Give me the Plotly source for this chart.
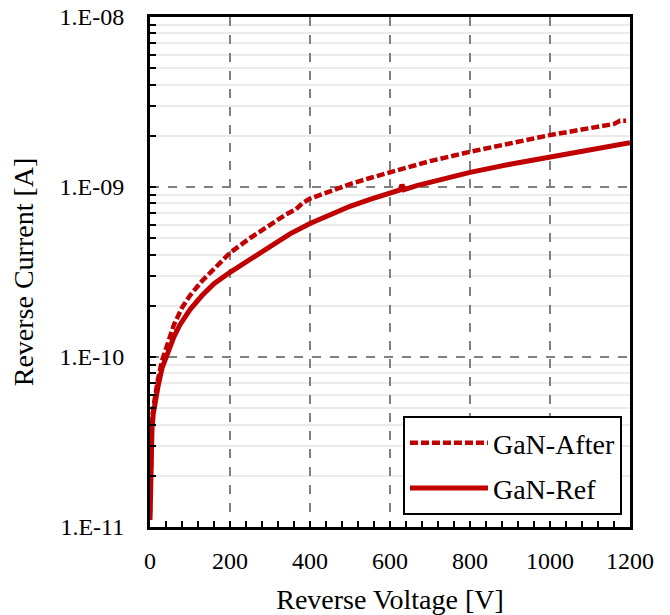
import plotly.graph_objects as go

# ---- data ----
v_after = [0, 1, 2, 3, 5, 8, 12, 20, 30, 40, 50, 60, 80, 100, 130, 160, 200, 250, 300,
           340, 365, 380, 400, 450, 500, 550, 600, 650, 700, 800, 900, 1000, 1100, 1160, 1175, 1190]
i_after = [1.2e-11, 1.7e-11, 2.4e-11, 3.2e-11, 4.2e-11, 5.0e-11, 5.8e-11, 7.4e-11, 9.5e-11,
           1.12e-10, 1.32e-10, 1.55e-10, 1.95e-10, 2.3e-10, 2.8e-10, 3.3e-10, 4.1e-10, 5.0e-10,
           6.0e-10, 6.9e-10, 7.4e-10, 8.0e-10, 8.55e-10, 9.5e-10, 1.04e-9, 1.13e-9, 1.22e-9,
           1.32e-9, 1.42e-9, 1.61e-9, 1.80e-9, 2.02e-9, 2.22e-9, 2.35e-9, 2.45e-9, 2.45e-9]

v_ref = [0, 1, 2, 3, 5, 8, 12, 20, 30, 40, 50, 60, 75, 90, 100, 130, 160, 200, 250, 300,
         350, 400, 450, 500, 550, 600, 625, 630, 635, 667, 700, 800, 900, 1000, 1100, 1200]
i_ref = [1.1e-11, 1.5e-11, 2.0e-11, 2.8e-11, 3.8e-11, 4.6e-11, 5.3e-11, 6.7e-11, 8.6e-11,
         1.0e-10, 1.15e-10, 1.32e-10, 1.55e-10, 1.78e-10, 1.9e-10, 2.3e-10, 2.7e-10, 3.15e-10,
         3.75e-10, 4.47e-10, 5.3e-10, 6.1e-10, 6.9e-10, 7.7e-10, 8.45e-10, 9.2e-10,
         9.6e-10, 1.03e-9, 9.65e-10, 1.02e-9, 1.07e-9, 1.22e-9, 1.36e-9, 1.5e-9, 1.65e-9, 1.82e-9]

y_tickvals = [1e-11, 1e-10, 1e-9, 1e-8]
y_ticktext = ["1.E-11", "1.E-10", "1.E-09", "1.E-08"]
y_minor = [m * 10.0 ** e for e in (-11, -10, -9) for m in range(2, 10)]

RED = "#C00000"
FONT = "Liberation Serif"

fig = go.Figure()
fig.add_trace(go.Scatter(x=v_after, y=i_after, mode="lines", name="GaN-After",
                         legendgroup="a",
                         line=dict(color=RED, width=4.5, dash="8px,3px")))
fig.add_trace(go.Scatter(x=v_ref, y=i_ref, mode="lines", name="GaN-Ref",
                         legendgroup="b",
                         line=dict(color=RED, width=5)))

fig.update_layout(
    width=670, height=615,
    margin=dict(l=150, r=40, t=17, b=88),
    paper_bgcolor="white", plot_bgcolor="white",
    font=dict(family=FONT, color="black", size=24),
    legend=dict(x=0.527, y=0.2176, xanchor="left", yanchor="top",
                bordercolor="black", borderwidth=2, bgcolor="white",
                font=dict(family=FONT, size=28, color="black"),
                itemwidth=78, traceorder="grouped", tracegroupgap=6),
    xaxis=dict(
        range=[0, 1200], dtick=200, tick0=0, automargin=False,
        showline=True, linecolor="black", linewidth=3, mirror=True,
        ticks="inside", ticklen=6, tickwidth=1.5, tickcolor="black",
        ticklabelstandoff=10,
        showgrid=True, gridcolor="#808080", gridwidth=1.5, griddash="dash",
        zeroline=False,
        minor=dict(dtick=40, ticks="inside", ticklen=6, tickwidth=1.5,
                   tickcolor="black", showgrid=False),
        title=dict(text="Reverse Voltage [V]", font=dict(size=28), standoff=21),
    ),
    yaxis=dict(
        type="log", range=[-11, -8], automargin=False,
        tickvals=y_tickvals, ticktext=y_ticktext,
        showline=True, linecolor="black", linewidth=3, mirror=True,
        ticks="inside", ticklen=6, tickwidth=1.5, tickcolor="black",
        ticklabelstandoff=18,
        showgrid=True, gridcolor="#808080", gridwidth=1.5, griddash="dash",
        zeroline=False,
        minor=dict(tickvals=y_minor, ticks="inside", ticklen=6, tickwidth=1.5,
                   tickcolor="black", showgrid=True, gridcolor="#ebebeb",
                   gridwidth=1.5, griddash="solid"),
        title=dict(text="Reverse Current [A]", font=dict(size=28), standoff=18),
    ),
)

fig.write_html("out.html")
